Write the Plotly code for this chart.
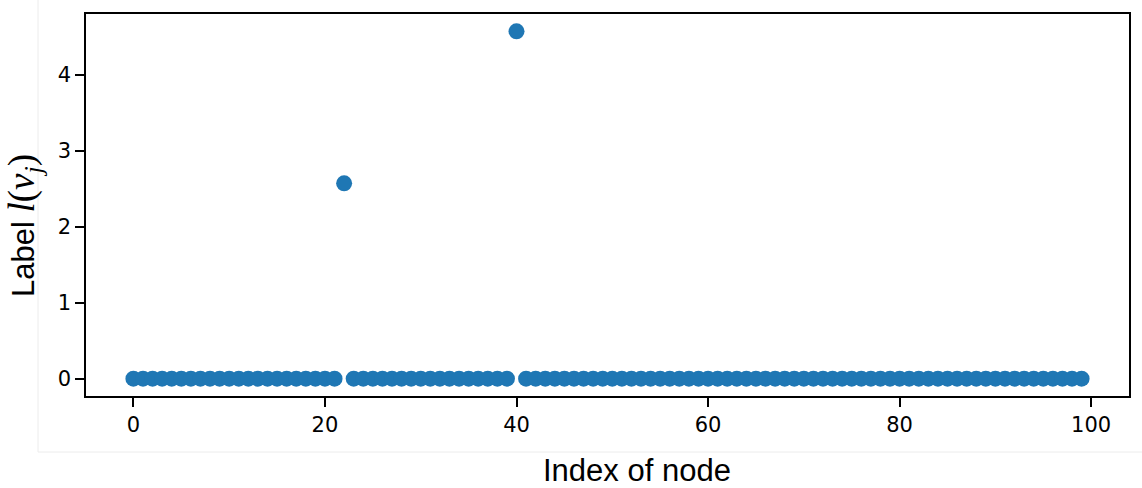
import plotly.graph_objects as go

# Node indices and their label values l(v_j)
node_index = list(range(100))
label_values = [
    0, 0, 0, 0, 0, 0, 0, 0, 0, 0,
    0, 0, 0, 0, 0, 0, 0, 0, 0, 0,
    0, 0, 2.57, 0, 0, 0, 0, 0, 0, 0,
    0, 0, 0, 0, 0, 0, 0, 0, 0, 0,
    4.57, 0, 0, 0, 0, 0, 0, 0, 0, 0,
    0, 0, 0, 0, 0, 0, 0, 0, 0, 0,
    0, 0, 0, 0, 0, 0, 0, 0, 0, 0,
    0, 0, 0, 0, 0, 0, 0, 0, 0, 0,
    0, 0, 0, 0, 0, 0, 0, 0, 0, 0,
    0, 0, 0, 0, 0, 0, 0, 0, 0, 0,
]
x_ticks = [0, 20, 40, 60, 80, 100]
y_ticks = [0, 1, 2, 3, 4]

W, H = 1142, 488
L, R, T, B = 86, 1129, 14, 396  # plot area in pixels

def px_x(p):
    return (p - L) / (R - L)

def px_y(p):
    return (B - p) / (B - T)

# axis limits with 5% padding around the data
xmin, xmax = min(node_index), max(node_index)
ymin, ymax = min(label_values), max(label_values)
xpad = 0.05 * (xmax - xmin)
ypad = 0.05 * (ymax - ymin)

fig = go.Figure()
fig.add_trace(go.Scatter(
    x=node_index, y=label_values, mode="markers",
    marker=dict(size=16, color="#1f77b4", line=dict(width=0)),
    showlegend=False,
))

axis_common = dict(
    showgrid=False, zeroline=False, showline=True, linecolor="black",
    linewidth=1.6, mirror=True, ticks="outside", ticklen=9, tickwidth=1.6,
    tickcolor="black", tickfont=dict(family="DejaVu Sans", size=21, color="black"),
)
fig.update_xaxes(range=[xmin - xpad, xmax + xpad], tickvals=x_ticks, **axis_common)
fig.update_yaxes(range=[ymin - ypad, ymax + ypad], tickvals=y_ticks, **axis_common)

fig.update_layout(
    width=W, height=H,
    margin=dict(l=L, r=W - R, t=T, b=H - B),
    plot_bgcolor="white", paper_bgcolor="white",
    annotations=[
        dict(text="Index of node", x=px_x(637), y=px_y(470), xref="paper", yref="paper",
             xanchor="center", yanchor="middle", showarrow=False,
             font=dict(family="Liberation Sans", size=31, color="black")),
        dict(text="Label <span style=\"font-family:'Liberation Serif';font-size:37px\"><i>l</i>(<i>v</i><sub><i>j</i></sub>)</span>",
             x=px_x(24), y=px_y(226), xref="paper", yref="paper", textangle=-90,
             xanchor="center", yanchor="middle", showarrow=False,
             font=dict(family="Liberation Sans", size=31, color="black")),
    ],
    shapes=[
        dict(type="line", xref="paper", yref="paper", x0=px_x(38), x1=px_x(38),
             y0=px_y(0), y1=px_y(452), line=dict(color="#ececec", width=1)),
        dict(type="line", xref="paper", yref="paper", x0=px_x(38), x1=px_x(1142),
             y0=px_y(452), y1=px_y(452), line=dict(color="#ececec", width=1)),
    ],
)

fig.write_html("out.html")
